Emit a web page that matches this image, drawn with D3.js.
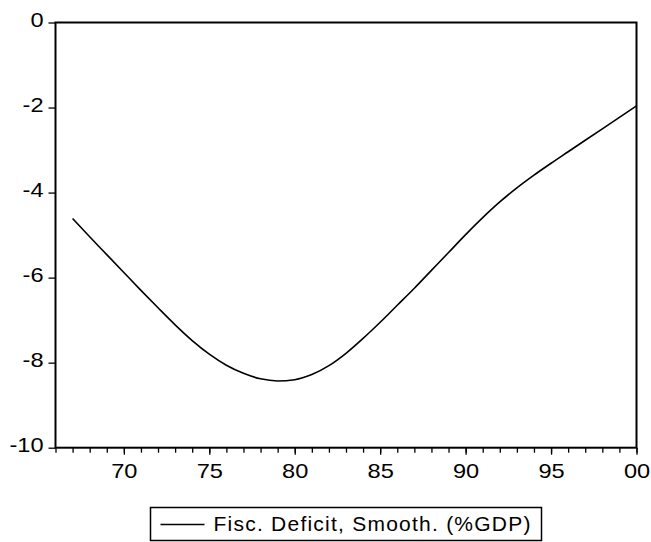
<!DOCTYPE html>
<html>
<head>
<meta charset="utf-8">
<script src="https://cdn.jsdelivr.net/npm/d3@7"></script>
<style>
  body { margin: 0; background: #fff; }
  svg { display: block; font-family: "Liberation Sans", Arial, sans-serif; }
</style>
</head>
<body>
<svg width="651" height="542"></svg>
<script>
// smoothed fiscal deficit, % of GDP
var years = d3.range(1967, 2001);
var deficit = [
  -4.61, -5.04, -5.46, -5.88, -6.30, -6.71, -7.11, -7.48, -7.80, -8.06,
  -8.25, -8.38, -8.43, -8.40, -8.28, -8.07, -7.78, -7.43, -7.05, -6.65,
  -6.25, -5.83, -5.41, -4.99, -4.59, -4.22, -3.89, -3.59, -3.31, -3.04,
  -2.77, -2.50, -2.23, -1.96
];
var yTicks = [0, -2, -4, -6, -8, -10];
var xMajor = [1970, 1975, 1980, 1985, 1990, 1995, 2000];
var seriesName = 'Fisc. Deficit, Smooth. (%GDP)';

var svg = d3.select('svg');
var plot = {l: 55.5, r: 636.5, t: 22.5, b: 447.7};
var fontSize = '20px';
var stretch = 1.18;   // the original digits are a bit wider than Arial

var x = d3.scaleLinear().domain([1966, 2000]).range([plot.l, plot.r]);
var y = d3.scaleLinear().domain([-10, 0]).range([plot.b, plot.t]);

// minor year ticks on the bottom
svg.append('g')
    .attr('transform', 'translate(0,' + plot.b + ')')
    .call(d3.axisBottom(x).tickValues(d3.range(1966, 2001)).tickSize(5).tickFormat(''))
    .call(function(g) { g.select('.domain').remove(); })
    .selectAll('line').attr('stroke', '#000').attr('stroke-width', 1.3);

// major ticks + labels
var xAxis = d3.axisBottom(x)
    .tickValues(xMajor)
    .tickSize(7)
    .tickPadding(9)
    .tickFormat(function(d) { return d3.format('02d')(d % 100); });
var xg = svg.append('g')
    .attr('transform', 'translate(0,' + plot.b + ')')
    .call(xAxis);
xg.select('.domain').remove();
xg.selectAll('line').attr('stroke', '#000').attr('stroke-width', 1.3);
xg.selectAll('text')
    .attr('fill', '#000')
    .style('font-size', fontSize)
    .attr('transform', 'scale(' + stretch + ',1)');

var yAxis = d3.axisLeft(y)
    .tickValues(yTicks)
    .tickSize(7)
    .tickFormat(function(d) { return String(d); });  // plain hyphen, not unicode minus
var yg = svg.append('g')
    .attr('transform', 'translate(' + plot.l + ',0)')
    .call(yAxis);
yg.select('.domain').remove();
yg.selectAll('line').attr('stroke', '#000').attr('stroke-width', 1.3);
yg.selectAll('text')
    .attr('fill', '#000')
    .style('font-size', fontSize)
    .attr('x', -12 / stretch)
    .attr('dy', '0.2em')
    .attr('transform', 'scale(' + stretch + ',1)');

// frame
svg.append('rect')
    .attr('x', plot.l).attr('y', plot.t)
    .attr('width', plot.r - plot.l).attr('height', plot.b - plot.t)
    .attr('fill', 'none').attr('stroke', '#000').attr('stroke-width', 2);

// the series
var line = d3.line()
    .x(function(d, i) { return x(years[i]); })
    .y(function(d) { return y(d); })
    .curve(d3.curveMonotoneX);
svg.append('path')
    .datum(deficit)
    .attr('d', line)
    .attr('fill', 'none')
    .attr('stroke', '#000')
    .attr('stroke-width', 1.6);

// legend
var leg = svg.append('g').attr('transform', 'translate(150.5,507.5)');
leg.append('rect')
    .attr('width', 391).attr('height', 33)
    .attr('fill', '#fff').attr('stroke', '#000').attr('stroke-width', 1.5);
leg.append('line')
    .attr('x1', 10).attr('x2', 54).attr('y1', 17).attr('y2', 17)
    .attr('stroke', '#000').attr('stroke-width', 1.3);
leg.append('text')
    .attr('x', 63).attr('y', 23.5)
    .style('font-size', '21px')
    .attr('textLength', 317)
    .attr('lengthAdjust', 'spacing')
    .text(seriesName);
</script>
</body>
</html>
